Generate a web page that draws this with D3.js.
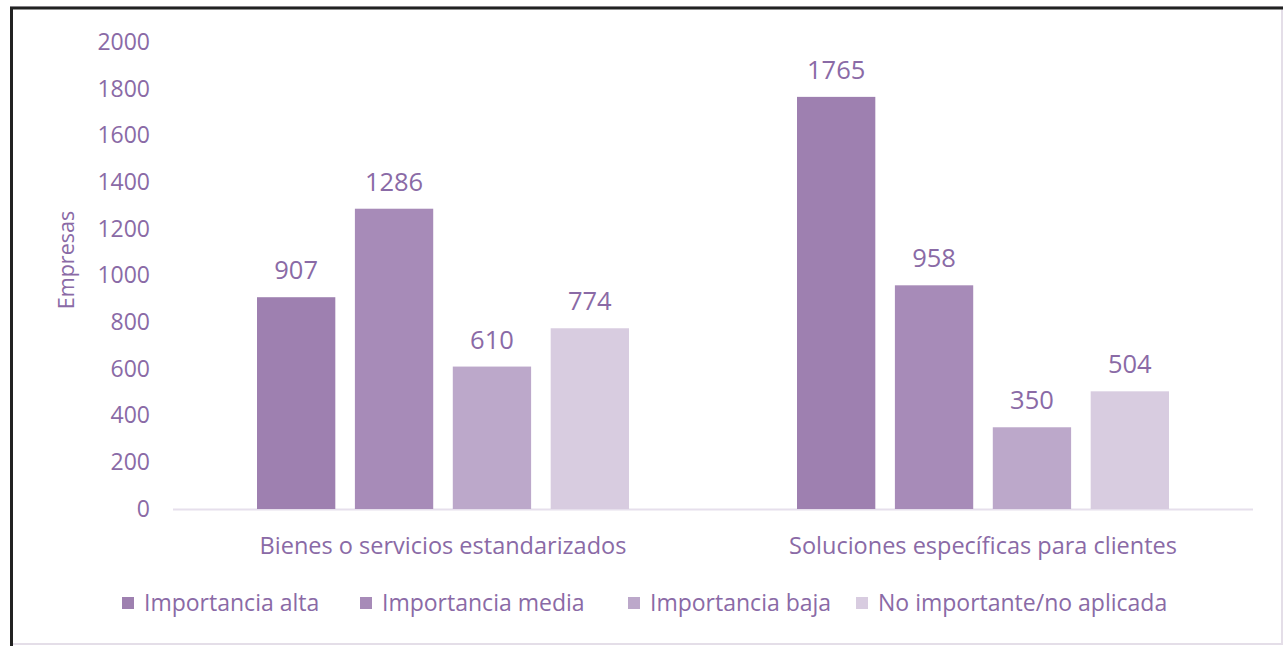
<html><head>
<meta charset="utf-8">
<script src="https://d3js.org/d3.v7.min.js"></script>
<style>
  body { margin: 0; background: #fff; }
  text { font-family: "Open Sans", "Noto Sans", sans-serif; fill: #8a6aa6; }
</style>
</head>
<body>
<script>
var categories = ["Bienes o servicios estandarizados", "Soluciones específicas para clientes"];
var series = ["Importancia alta", "Importancia media", "Importancia baja", "No importante/no aplicada"];
var alta = [907, 1765];
var media = [1286, 958];
var baja = [610, 350];
var noAplica = [774, 504];
var yTicks = [0, 200, 400, 600, 800, 1000, 1200, 1400, 1600, 1800, 2000];
var colors = ["#9e80b0", "#a78bb8", "#bca8ca", "#d8cce0"];

var values = [alta, media, baja, noAplica];
var data = categories.map(function(c, i) {
  return { cat: c, vals: series.map(function(s, j) { return { key: s, value: values[j][i], idx: j }; }) };
});

var W = 1286, H = 646;
var svg = d3.select("body").append("svg").attr("width", W).attr("height", H);

// frame
svg.append("rect").attr("x", 11).attr("y", 7).attr("width", 1271).attr("height", 637)
  .attr("fill", "#fff").attr("stroke", "#e4dee8").attr("stroke-width", 2);
svg.append("line").attr("x1", 10).attr("x2", 1283).attr("y1", 8).attr("y2", 8)
  .attr("stroke", "#222").attr("stroke-width", 3);
svg.append("line").attr("x1", 11.5).attr("x2", 11.5).attr("y1", 7).attr("y2", 646)
  .attr("stroke", "#222").attr("stroke-width", 3);

var plotLeft = 173, plotRight = 1253, plotTop = 42, plotBottom = 509;

var x0 = d3.scaleBand().domain(categories).range([plotLeft, plotRight]).padding(0);
var x1 = d3.scaleBand().domain(series).range([84, 456]).paddingInner(0.2).paddingOuter(0);
var y = d3.scaleLinear().domain([0, 2000]).range([plotBottom, plotTop]);

// y axis labels
var yAxis = svg.append("g").attr("transform", "translate(150,0)")
  .call(d3.axisLeft(y).tickValues(yTicks).tickFormat(d3.format("d")).tickSize(0).tickPadding(0));
yAxis.select(".domain").remove();
yAxis.selectAll("text").style("font-size", "23px").attr("fill", "#8a6aa6")
  .style("font-family", "'Open Sans', sans-serif");

// baseline
svg.append("line").attr("x1", plotLeft).attr("x2", plotRight).attr("y1", plotBottom + 0.5).attr("y2", plotBottom + 0.5)
  .attr("stroke", "#e6dfec").attr("stroke-width", 2);

var groups = svg.selectAll(".grp").data(data).enter().append("g")
  .attr("transform", function(d) { return "translate(" + x0(d.cat) + ",0)"; });

groups.selectAll("rect").data(function(d) { return d.vals; }).enter().append("rect")
  .attr("x", function(d) { return x1(d.key); })
  .attr("width", x1.bandwidth())
  .attr("y", function(d) { return y(d.value); })
  .attr("height", function(d) { return plotBottom - y(d.value); })
  .attr("fill", function(d) { return colors[d.idx]; });

groups.selectAll(".lbl").data(function(d) { return d.vals; }).enter().append("text")
  .attr("x", function(d) { return x1(d.key) + x1.bandwidth() / 2; })
  .attr("y", function(d) { return y(d.value) - 18; })
  .attr("text-anchor", "middle")
  .style("font-size", "25.5px")
  .text(function(d) { return d.value; });

// category labels
svg.selectAll(".cat").data(categories).enter().append("text")
  .attr("x", function(d) { return x0(d) + x0.bandwidth() / 2; })
  .attr("y", 554)
  .attr("text-anchor", "middle")
  .style("font-size", "23.5px")
  .text(function(d) { return d; });

// y title
svg.append("text").attr("transform", "translate(74,260) rotate(-90)")
  .attr("text-anchor", "middle").style("font-size", "21.5px").text("Empresas");

// legend
var legX = [122, 360, 628, 856];
var leg = svg.selectAll(".leg").data(series).enter().append("g")
  .attr("transform", function(d, i) { return "translate(" + legX[i] + ",597)"; });
leg.append("rect").attr("width", 12).attr("height", 12).attr("fill", function(d, i) { return colors[i]; });
leg.append("text").attr("x", 22).attr("y", 14).style("font-size", "23px").text(function(d) { return d; });
</script>
</body></html>
